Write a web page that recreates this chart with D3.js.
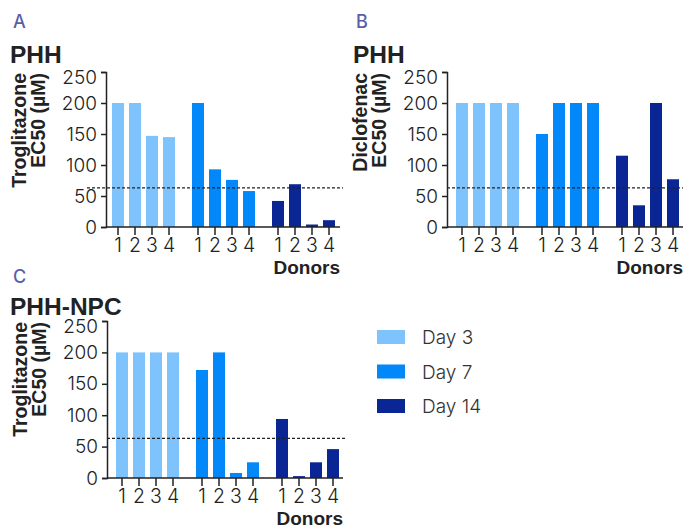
<!DOCTYPE html>
<html>
<head>
<meta charset="utf-8">
<script src="https://cdn.jsdelivr.net/npm/d3@7"></script>
<style>
  body { margin: 0; background: #fff; }
  svg { display: block; font-family: Inter, "Noto Sans", sans-serif; }
</style>
</head>
<body>
<svg id="figure"></svg>
<script>
var fullWidth = 683;
var fullHeight = 528;

// data
var days = ["Day 3", "Day 7", "Day 14"];
var donors = ["1", "2", "3", "4"];
var yTicks = [0, 50, 100, 150, 200, 250];
var threshold = 63;
var colors = ["#7fc3fc", "#0388fa", "#0a2594"];

var trogPHH = [
    [200, 200, 147, 145],
    [200, 93, 76, 58],
    [42, 69, 4, 11]
];
var diclPHH = [
    [200, 200, 200, 200],
    [150, 200, 200, 200],
    [115, 35, 200, 77]
];
var trogNPC = [
    [200, 200, 200, 200],
    [172, 200, 8, 25],
    [94, 3, 25, 46]
];

var boldFont = "'Liberation Sans', Arial, sans-serif";

var svg = d3.select("#figure")
    .attr("width", fullWidth)
    .attr("height", fullHeight);

var panels = [
    {letter: "A", title: "PHH", drug: "Troglitazone", values: trogPHH,
     ax: 106, barStart: 109.5, xEnd: 340, top: 72, bottom: 227, dashFrom: 87, left: 10, letterY: 28, titleY: 63},
    {letter: "B", title: "PHH", drug: "Diclofenac", values: diclPHH,
     ax: 447, barStart: 453.5, xEnd: 683, top: 72, bottom: 227, dashFrom: 447, left: 353, letterY: 28, titleY: 63},
    {letter: "C", title: "PHH-NPC", drug: "Troglitazone", values: trogNPC,
     ax: 107, barStart: 113.5, xEnd: 343, top: 321, bottom: 478, dashFrom: 107, left: 10, letterY: 283, titleY: 315}
];

panels.forEach(function(p) {
    var g = svg.append("g");

    var y = d3.scaleLinear().domain([0, 250]).range([p.bottom, p.top]);
    var x0 = d3.scaleBand().domain(days).range([p.barStart, p.barStart + 228]).paddingInner(0.15);
    var x1 = d3.scaleBand().domain(donors).range([0, x0.bandwidth()])
        .paddingInner(0.294).paddingOuter(0.147);

    // letter and title
    g.append("text").text(p.letter)
        .attr("x", p.left + 3).attr("y", p.letterY)
        .attr("font-size", 18).attr("font-weight", 500).attr("fill", "#5a5ea9");
    g.append("text").text(p.title)
        .attr("x", p.left).attr("y", p.titleY)
        .attr("font-family", boldFont)
        .attr("font-size", 24.5).attr("font-weight", 700).attr("fill", "#222");

    // bars
    days.forEach(function(day, i) {
        g.append("g")
            .selectAll("rect")
            .data(p.values[i])
            .enter().append("rect")
            .attr("x", function(d, j) { return x0(day) + x1(donors[j]); })
            .attr("y", function(d) { return y(d); })
            .attr("width", x1.bandwidth())
            .attr("height", function(d) { return y(0) - y(d); })
            .attr("fill", colors[i]);

        var xa = g.append("g")
            .attr("transform", "translate(" + x0(day) + "," + p.bottom + ")")
            .call(d3.axisBottom(x1).tickSize(8).tickPadding(3));
        xa.select(".domain").remove();
        xa.selectAll("line").attr("stroke", "#222").attr("stroke-width", 1.5);
        xa.selectAll("text").attr("font-size", 19.5).attr("font-weight", 300)
            .attr("fill", "#222").attr("font-family", "Inter");
    });

    // threshold line
    g.append("line")
        .attr("x1", p.dashFrom).attr("x2", p.xEnd + 3)
        .attr("y1", y(threshold)).attr("y2", y(threshold))
        .attr("stroke", "#222").attr("stroke-width", 1.2)
        .attr("stroke-dasharray", "3,2");

    // x axis line
    g.append("line")
        .attr("x1", p.ax).attr("x2", p.xEnd)
        .attr("y1", p.bottom).attr("y2", p.bottom)
        .attr("stroke", "#222").attr("stroke-width", 1.5);

    // y axis
    var ya = g.append("g")
        .attr("transform", "translate(" + p.ax + ",0)")
        .call(d3.axisLeft(y).tickValues(yTicks).tickSize(5).tickSizeOuter(5).tickPadding(4));
    ya.select(".domain").attr("stroke", "#222").attr("stroke-width", 1.5);
    ya.selectAll("line").attr("stroke", "#222").attr("stroke-width", 1.5);
    ya.selectAll("text").attr("font-size", 19).attr("font-weight", 300)
        .attr("fill", "#222").attr("font-family", "Inter");
    // top label sits a little below its tick, as in the original
    ya.selectAll(".tick text").filter(function(d) { return d === 250; }).attr("y", 5);

    // y label
    var lab = g.append("text")
        .attr("transform", "translate(" + (p.ax - 80) + "," + (p.top + 1) + ") rotate(-90)")
        .attr("text-anchor", "end")
        .attr("font-family", boldFont)
        .attr("font-size", 19.5).attr("font-weight", 700).attr("fill", "#222");
    lab.append("tspan").attr("x", 0).attr("y", 0).text(p.drug);
    lab.append("tspan").attr("x", 0).attr("y", 19).text("EC50 (\u00b5M)");

    // x label
    g.append("text").text("Donors")
        .attr("x", p.xEnd).attr("y", p.bottom + 47)
        .attr("text-anchor", "end")
        .attr("font-family", boldFont)
        .attr("font-size", 19).attr("font-weight", 700).attr("fill", "#222");
});

// legend
var legend = svg.append("g").selectAll("g")
    .data(days)
    .enter().append("g")
    .attr("transform", function(d, i) { return "translate(377," + (330 + i * 34.5) + ")"; });

legend.append("rect")
    .attr("width", 28).attr("height", 14)
    .attr("fill", function(d, i) { return colors[i]; });

legend.append("text")
    .text(function(d) { return d; })
    .attr("x", 45).attr("y", 14)
    .attr("font-size", 19).attr("font-weight", 300).attr("fill", "#333");
</script>
</body>
</html>
